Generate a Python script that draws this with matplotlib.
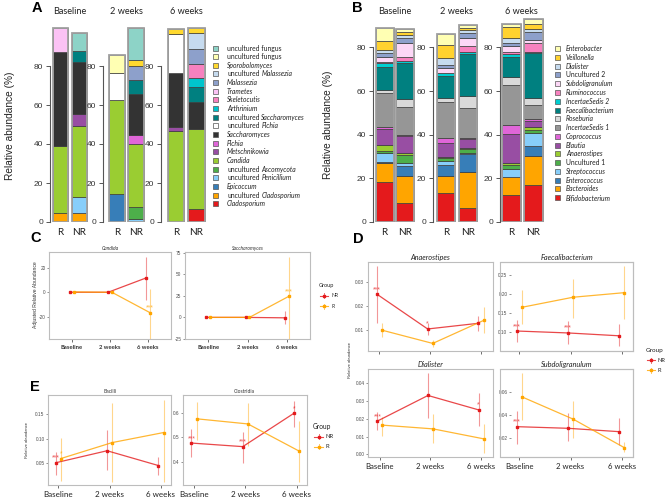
import matplotlib
matplotlib.use("Agg")
import matplotlib.pyplot as plt
from matplotlib.patches import Rectangle
import numpy as np

plt.rcParams['font.family'] = ['Lato', 'DejaVu Sans']

# ---------------- DATA ----------------
groups = ["R", "NR"]
timepoints = ["Baseline", "2 weeks", "6 weeks"]

# Panel A: fungal genera, bottom-up stacking order
fungi_taxa = ["Cladosporium", "uncultured Cladosporium", "Epicoccum", "uncultured Penicillium",
              "uncultured Ascomycota", "Candida", "Metschnikowia", "Pichia", "Saccharomyces",
              "uncultured Pichia", "uncultured Saccharomyces", "Arthrinium", "Skeletocutis",
              "Trametes", "Malassezia", "uncultured Malassezia", "Sporobolomyces",
              "uncultured fungus", "uncultured fungus"]
fungi_colors = ["#e41a1c", "#ffa500", "#377eb8", "#87cefa", "#4daf4a", "#9acd32", "#984ea3",
                "#e066d8", "#333333", "#ffffff", "#008080", "#00c5cd", "#f781bf", "#fbc2f5",
                "#8da0cb", "#c6dbef", "#ffd92f", "#ffffb3", "#8dd3c7"]
A_R_base = [0, 4.5, 0, 0, 0, 34.5, 0, 0, 48, 0, 0, 0, 0, 12.5, 0, 0, 0, 0, 0]
A_NR_base = [0, 4.5, 0, 8.5, 0, 36, 6.2, 0, 27, 0, 5.6, 0, 0, 0, 0, 0, 0, 0, 9]
A_R_2wk = [0, 0, 14.4, 0, 0, 48.2, 0, 0, 0, 13.6, 0, 0, 0, 0, 0, 0, 0, 9.3, 0]
A_NR_2wk = [0, 0, 0, 1.4, 6.1, 32.3, 0, 4.6, 21.2, 0, 7.2, 0, 0, 0, 7.4, 0, 2.9, 0, 16.2]
A_R_6wk = [0, 0, 0, 0, 0, 46.7, 1.8, 0, 28.1, 19.6, 0, 0, 0, 0, 0, 0, 2.8, 0, 0]
A_NR_6wk = [6.5, 0, 0, 0, 0, 41, 0, 0, 14.2, 0, 7.4, 4.9, 7, 0, 7.9, 7.9, 2.7, 0, 0]

# Panel B: bacterial genera, bottom-up stacking order
bact_taxa = ["Bifidobacterium", "Bacteroides", "Enterococcus", "Streptococcus", "Uncultured 1",
             "Anaerostipes", "Blautia", "Coprococcus", "IncertaeSedis 1", "Roseburia",
             "Faecalibacterium", "IncertaeSedis 2", "Ruminococcus", "Subdoligranulum",
             "Uncultured 2", "Dialister", "Veillonella", "Enterobacter"]
bact_colors = ["#e41a1c", "#ffa500", "#377eb8", "#87cefa", "#4daf4a", "#9acd32", "#984ea3",
               "#e066d8", "#969696", "#d9d9d9", "#008080", "#00ced1", "#f781bf", "#fcd7f6",
               "#8da0cb", "#c6dbef", "#ffd22f", "#ffffb3"]
B_R_base = [18.2, 8.7, 0.6, 4.0, 1.0, 2.8, 7.4, 0.7, 15.6, 1.5, 10.7, 1.5, 0.4, 2.3, 1.9, 1.5, 4.0, 5.9]
B_NR_base = [8.6, 12.5, 4.7, 1.1, 3.8, 0.8, 8.0, 0.5, 12.5, 4.0, 16.2, 1.2, 1.5, 6.4, 2.3, 1.6, 1.3, 1.6]
B_R_2wk = [13.1, 8.1, 4.9, 2.0, 1.1, 0.7, 6.4, 2.3, 16.5, 1.8, 10.0, 1.2, 0.3, 2.0, 1.5, 3.4, 5.8, 4.9]
B_NR_2wk = [6.3, 16.7, 8.0, 0.5, 1.8, 0.5, 4.1, 0.6, 13.6, 5.6, 19.3, 1.0, 2.6, 3.8, 2.3, 1.3, 0.9, 1.3]
B_R_6wk = [12.4, 8.1, 0.0, 3.6, 1.9, 0.9, 13.3, 4.2, 18.4, 3.5, 9.4, 1.3, 1.0, 2.6, 1.2, 2.3, 5.1, 1.5]
B_NR_6wk = [17.0, 13.4, 4.6, 5.9, 1.2, 1.6, 2.7, 0.6, 6.4, 3.5, 20.4, 0.7, 4.1, 1.3, 3.8, 1.1, 2.4, 2.2]

# Panel C: adjusted relative abundance (mean, lower, upper)
C_candida_NR = [0, 0, 11.7]
C_candida_NR_lo = [0, 0, -6.3]
C_candida_NR_hi = [0, 0, 29]
C_candida_R = [0.3, 0, -16.6]
C_candida_R_lo = [0.3, 0, -45]
C_candida_R_hi = [0.3, 0, 2.4]
C_sacch_NR = [0, 0, -0.5]
C_sacch_NR_lo = [0, 0, -7.7]
C_sacch_NR_hi = [0, 0, 7.3]
C_sacch_R = [0, 0, 24.2]
C_sacch_R_lo = [0, 0, -30]
C_sacch_R_hi = [0, 0, 70]

# Panel D
D_anaero_NR = [0.0250, 0.0103, 0.0127]
D_anaero_NR_lo = [0.0127, 0.0078, 0.0094]
D_anaero_NR_hi = [0.0369, 0.0130, 0.0158]
D_anaero_R = [0.0098, 0.0042, 0.0139]
D_anaero_R_lo = [0.0071, 0.0028, 0.0084]
D_anaero_R_hi = [0.0130, 0.0056, 0.0196]
D_faecali_NR = [0.1026, 0.0975, 0.0900]
D_faecali_NR_lo = [0.0745, 0.0686, 0.0637]
D_faecali_NR_hi = [0.132, 0.128, 0.121]
D_faecali_R = [0.165, 0.1915, 0.2035]
D_faecali_R_lo = [0.122, 0.137, 0.134]
D_faecali_R_hi = [0.2095, 0.240, 0.274]
D_dial_NR = [0.0187, 0.0331, 0.0250]
D_dial_NR_lo = [0.0137, 0.0203, 0.0160]
D_dial_NR_hi = [0.0236, 0.0457, 0.0344]
D_dial_R = [0.0164, 0.0143, 0.0087]
D_dial_R_lo = [0.0104, 0.0065, 0.0005]
D_dial_R_hi = [0.0212, 0.0225, 0.0172]
D_subdo_NR = [0.0300, 0.0286, 0.0257]
D_subdo_NR_lo = [0.0151, 0.0179, 0.0143]
D_subdo_NR_hi = [0.0437, 0.0415, 0.0372]
D_subdo_R = [0.0556, 0.0365, 0.0120]
D_subdo_R_lo = [0.0356, 0.0204, 0.0080]
D_subdo_R_hi = [0.0757, 0.0522, 0.0172]

# Panel E
E_bac_NR = [0.050, 0.0748, 0.0442]
E_bac_NR_lo = [0.0245, 0.035, 0.0245]
E_bac_NR_hi = [0.0727, 0.118, 0.0627]
E_bac_R = [0.0587, 0.0917, 0.1124]
E_bac_R_lo = [0.012, 0.011, 0.011]
E_bac_R_hi = [0.102, 0.174, 0.180]
E_clo_NR = [0.476, 0.4615, 0.598]
E_clo_NR_lo = [0.421, 0.396, 0.543]
E_clo_NR_hi = [0.534, 0.522, 0.649]
E_clo_R = [0.575, 0.554, 0.443]
E_clo_R_lo = [0.489, 0.462, 0.318]
E_clo_R_hi = [0.645, 0.641, 0.566]

stars_C_candida = (["", "", ""], ["", "", "***"])
stars_C_sacch = (["", "", ""], ["", "", "***"])
stars_D_anaero = (["***", "*", ""], ["", "", ""])
stars_D_faecali = (["***", "***", ""], ["", "", ""])
stars_D_dial = (["***", "", "*"], ["", "", ""])
stars_D_subdo = (["***", "", ""], ["", "", ""])
stars_E_bac = (["***", "", ""], ["*", "", ""])
stars_E_clo = (["***", "***", "*"], ["", "", ""])

RED = "#e41a1c"
ORANGE = "#ffa500"

# ---------------- FIGURE ----------------
W, H = 669, 498
fig = plt.figure(figsize=(W / 100, H / 100), dpi=100)


def add_ax(x0, y0, x1, y1):
    return fig.add_axes([x0 / W, 1 - y1 / H, (x1 - x0) / W, (y1 - y0) / H])


def stacked_panel(spine_x, c0, spacing, bw, bars, colors, y_zero, px_per_unit, ymax):
    top = y_zero - px_per_unit * ymax
    right = spine_x + 52
    ax = add_ax(spine_x, top, right, y_zero)
    off = (c0 - spine_x) / spacing
    ax.set_xlim(-off, -off + (right - spine_x) / spacing)
    ax.set_ylim(0, ymax)
    for i, vals in enumerate(bars):
        bottom = 0
        for v, c in zip(vals, colors):
            if v > 0:
                ax.bar(i, v, bottom=bottom, width=bw / spacing, color=c,
                       edgecolor="#3a3a3a", linewidth=0.5, zorder=2)
            bottom += v
        ax.bar(i, bottom, width=bw / spacing, fill=False, edgecolor="#a0a0a0",
               linewidth=1.3, zorder=3)
    for s in ["top", "right", "bottom"]:
        ax.spines[s].set_visible(False)
    ax.spines["left"].set_bounds(0, 80)
    ax.spines["left"].set_color("#555555")
    ax.spines["left"].set_linewidth(0.8)
    ax.set_yticks([0, 20, 40, 60, 80])
    ax.tick_params(axis="y", length=3, width=0.7, color="#555555", labelsize=6,
                   labelcolor="#333333", pad=1.5, labelfontfamily="Liberation Sans")
    ax.set_xticks(range(len(groups)))
    ax.set_xticklabels(groups)
    ax.tick_params(axis="x", length=0, labelsize=7.2, pad=4.5, labelcolor="#222222")
    ax.patch.set_visible(False)
    return ax


# Panel A
A_bars = [[A_R_base, A_NR_base], [A_R_2wk, A_NR_2wk], [A_R_6wk, A_NR_6wk]]
A_geom = [(49.5, 60.5, 18.8, 15.5), (102.7, 117, 19, 16), (160.5, 176, 20.5, 16.5)]
for (sx, c0, sp, bw), bars in zip(A_geom, A_bars):
    stacked_panel(sx, c0, sp, bw, bars, fungi_colors, 222, 1.95, 102)

# Panel B
B_bars = [[B_R_base, B_NR_base], [B_R_2wk, B_NR_2wk], [B_R_6wk, B_NR_6wk]]
B_geom = [(372.7, 384.5, 20.6, 18), (432.7, 446.2, 22, 18.5), (499.5, 511.2, 22.2, 19)]
for (sx, c0, sp, bw), bars in zip(B_geom, B_bars):
    stacked_panel(sx, c0, sp, bw, bars, bact_colors, 222, 2.183, 95)


def line_panel(box, xlim, ylim, yticks, yticklabels, series, stars, title, title_kw,
               xlabels=None, xlab_kw=None, inner_left=None):
    x0, y0, x1, y1 = box
    ax = add_ax(x0, y0, x1, y1)
    ax.set_xlim(*xlim)
    ax.set_ylim(*ylim)
    x = np.arange(1, len(timepoints) + 1)
    cols = [RED, ORANGE]
    offs = [-0.05, 0.05]
    for k, (m, lo, hi) in enumerate(series):
        xx = x + offs[k]
        ax.vlines(xx, lo, hi, color=cols[k], alpha=0.45, lw=0.8, zorder=2)
        ax.plot(xx, m, color=cols[k], lw=0.9, alpha=0.8, zorder=3)
        ax.plot(xx, m, 's', ms=1.8, color=cols[k], zorder=4)
        for xi, mi, st in zip(xx, m, stars[k]):
            if st:
                ax.annotate(st, (xi, mi), xytext=(0, 0.8), textcoords="offset points",
                            ha="center", va="bottom", fontsize=5.0, color=cols[k],
                            alpha=0.75, family="Liberation Sans")
    for s in ax.spines.values():
        s.set_color("#bdbdbd")
        s.set_linewidth(0.8)
    ax.set_yticks(yticks)
    ax.set_yticklabels(yticklabels)
    ax.tick_params(axis="y", length=1.8, width=0.5, color="#666666", labelsize=3.4,
                   labelcolor="#4d4d4d", pad=0.8, labelfontfamily="Liberation Sans")
    ax.set_xticks(x)
    ax.tick_params(axis="x", length=2.2, width=0.6, color="#555555", pad=2)
    if xlabels:
        ax.set_xticklabels(xlabels, **xlab_kw)
    else:
        ax.set_xticklabels([])
    if inner_left is not None:
        ax.spines["left"].set_position(("axes", inner_left))
        ax.spines["left"].set_visible(False)
        ax.add_patch(Rectangle((0, 0), 1, 1, transform=ax.transAxes, fill=False,
                               edgecolor="#bdbdbd", linewidth=0.8, clip_on=False, zorder=5))
    ax.set_title(title, pad=1.5, **title_kw)
    return ax


# Panel C
c_title = dict(fontsize=3.6, style="italic", color="#333333")
c_xl = dict(fontsize=4.2, fontweight="bold", color="#333333")
line_panel((49, 251.7, 171, 339), (0.4, 3.6), (-38, 33), [-20, 0, 20], ["-20", "0", "20"],
           [(C_candida_NR, C_candida_NR_lo, C_candida_NR_hi),
            (C_candida_R, C_candida_R_lo, C_candida_R_hi)],
           stars_C_candida, "Candida", c_title, timepoints, c_xl)
line_panel((185, 251.7, 310, 339), (0.4, 3.6), (-25, 76), [-25, 0, 25, 50, 75],
           ["-25", "0", "25", "50", "75"],
           [(C_sacch_NR, C_sacch_NR_lo, C_sacch_NR_hi),
            (C_sacch_R, C_sacch_R_lo, C_sacch_R_hi)],
           stars_C_sacch, "Saccharomyces", c_title, timepoints, c_xl)

# Panel D
d_title = dict(fontsize=5.3, style="italic", color="#222222")
d_xl = dict(fontsize=5.6, color="#222222")
line_panel((367.7, 261.7, 492.7, 351), (0.77, 3.23), (0.001, 0.0387), [0.01, 0.02, 0.03],
           ["0.01", "0.02", "0.03"],
           [(D_anaero_NR, D_anaero_NR_lo, D_anaero_NR_hi),
            (D_anaero_R, D_anaero_R_lo, D_anaero_R_hi)],
           stars_D_anaero, "Anaerostipes", d_title)
line_panel((500, 261.7, 633, 351), (0.623, 3.22), (0.05, 0.285), [0.10, 0.15, 0.20, 0.25],
           ["0.10", "0.15", "0.20", "0.25"],
           [(D_faecali_NR, D_faecali_NR_lo, D_faecali_NR_hi),
            (D_faecali_R, D_faecali_R_lo, D_faecali_R_hi)],
           stars_D_faecali, "Faecalibacterium", d_title, inner_left=11 / 133)
line_panel((368.3, 369, 492.7, 457.3), (0.77, 3.23), (-0.0017, 0.048),
           [0.00, 0.01, 0.02, 0.03, 0.04], ["0.00", "0.01", "0.02", "0.03", "0.04"],
           [(D_dial_NR, D_dial_NR_lo, D_dial_NR_hi),
            (D_dial_R, D_dial_R_lo, D_dial_R_hi)],
           stars_D_dial, "Dialister", d_title, timepoints, d_xl)
line_panel((500, 369, 633, 457.3), (0.623, 3.22), (0.0037, 0.0795), [0.02, 0.04, 0.06],
           ["0.02", "0.04", "0.06"],
           [(D_subdo_NR, D_subdo_NR_lo, D_subdo_NR_hi),
            (D_subdo_R, D_subdo_R_lo, D_subdo_R_hi)],
           stars_D_subdo, "Subdoligranulum", d_title, timepoints, d_xl, inner_left=11 / 133)

# Panel E
e_title = dict(fontsize=3.6, color="#333333")
e_xl = dict(fontsize=5.8, color="#222222")
line_panel((48.3, 395, 171, 485), (0.805, 3.195), (0.004, 0.19), [0.05, 0.10, 0.15],
           ["0.05", "0.10", "0.15"],
           [(E_bac_NR, E_bac_NR_lo, E_bac_NR_hi), (E_bac_R, E_bac_R_lo, E_bac_R_hi)],
           stars_E_bac, "Bacilli", e_title, timepoints, e_xl)
line_panel((182.7, 395, 306.7, 485), (0.78, 3.195), (0.305, 0.672), [0.4, 0.5, 0.6],
           ["0.4", "0.5", "0.6"],
           [(E_clo_NR, E_clo_NR_lo, E_clo_NR_hi), (E_clo_R, E_clo_R_lo, E_clo_R_hi)],
           stars_E_clo, "Clostridia", e_title, timepoints, e_xl)

# ---------------- OVERLAY (text, legends) ----------------
ov = fig.add_axes([0, 0, 1, 1])
ov.set_xlim(0, W)
ov.set_ylim(H, 0)
ov.axis("off")
renderer = fig.canvas.get_renderer()

for lab, (x, y) in zip("ABCDE", [(37, 8), (357.5, 8), (36, 238), (358, 239), (34.5, 387)]):
    ov.text(x, y, lab, fontsize=10.5, fontweight="bold", family="Liberation Sans",
            ha="center", va="center")

for t, x in zip(timepoints, [70, 126, 186]):
    ov.text(x, 11, t, fontsize=6.6, ha="center", va="center", color="#222222")
for t, x in zip(timepoints, [395, 456, 521.7]):
    ov.text(x, 11, t, fontsize=6.6, ha="center", va="center", color="#222222")

ov.text(10, 126, "Relative abundance (%)", rotation=90, fontsize=7.3, ha="center",
        va="center", family="Liberation Sans", color="#222222")
ov.text(328, 125, "Relative abundance (%)", rotation=90, fontsize=7.3, ha="center",
        va="center", family="Liberation Sans", color="#222222")
ov.text(36, 295, "Adjusted Relative Abundance", rotation=90, fontsize=3.6, ha="center",
        va="center", family="Liberation Sans", color="#333333")
ov.text(350, 360, "Relative abundance", rotation=90, fontsize=3.0, ha="center",
        va="center", family="Liberation Sans", color="#333333")
ov.text(27, 440, "Relative abundance", rotation=90, fontsize=3.0, ha="center",
        va="center", family="Liberation Sans", color="#333333")

plain_words = {"uncultured", "Uncultured", "fungus"}
LEG_FS = 4.9


def legend_label(x, y, name):
    words = name.split(" ")
    if words[0] in plain_words:
        plain = " ".join(w for w in words if w in plain_words)
        rest = " ".join(w for w in words if w not in plain_words)
        if rest and not rest.isdigit():
            t = ov.text(x, y, plain, fontsize=LEG_FS, va="center", ha="left",
                        color="#222222")
            wpx = t.get_window_extent(renderer).width
            ov.text(x + wpx + LEG_FS * 0.35, y, rest, fontsize=LEG_FS, va="center",
                    ha="left", style="italic", color="#222222")
        else:
            ov.text(x, y, name, fontsize=LEG_FS, va="center", ha="left", color="#222222")
    else:
        ov.text(x, y, name, fontsize=LEG_FS, va="center", ha="left", style="italic",
                color="#222222")


def bar_legend(x_sq, x_txt, y0, dy, taxa, colors):
    for i, (name, c) in enumerate(zip(taxa[::-1], colors[::-1])):
        y = y0 + i * dy
        ov.add_patch(Rectangle((x_sq, y - 2.5), 5.0, 5.0, facecolor=c, edgecolor="#555555",
                               linewidth=0.5))
        legend_label(x_txt, y, name)


bar_legend(212.5, 227, 48, 8.65, fungi_taxa, fungi_colors)
bar_legend(554.7, 566, 48.7, 8.76, bact_taxa, bact_colors)


def group_legend(x, y_title, y_nr, y_r, fs, key_w):
    ov.text(x, y_title, "Group", fontsize=fs, va="center", ha="left", color="#222222")
    for y, lab, c in [(y_nr, "NR", RED), (y_r, "R", ORANGE)]:
        ov.plot([x + 1, x + 1 + key_w], [y, y], color=c, lw=0.8, alpha=0.8)
        ov.plot([x + 1 + key_w / 2] * 2, [y - 2.5, y + 2.5], color=c, lw=0.7, alpha=0.6)
        ov.plot([x + 1 + key_w / 2], [y], 's', ms=1.8, color=c)
        ov.text(x + key_w + 4, y, lab, fontsize=fs * 0.9, va="center", ha="left",
                color="#222222")


group_legend(319, 285, 295.7, 306, 4.0, 8)
group_legend(646, 350.7, 360, 370, 4.6, 8)
group_legend(313, 426.7, 436.7, 446.7, 4.8, 9)

fig.savefig("out.png", dpi=100)
